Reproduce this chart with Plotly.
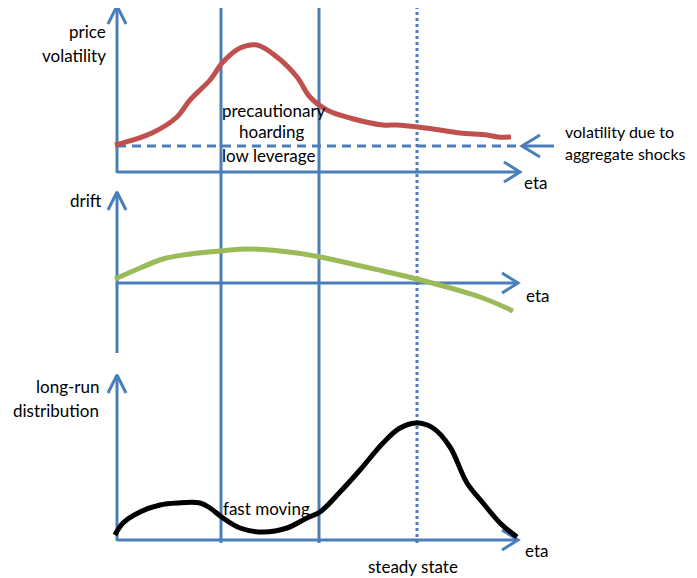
import plotly.graph_objects as go

W, H = 697, 578
OFF = 8                      # page body margin in the browser
FW, FH = W - OFF, H - OFF    # figure size
BLUE = "#4A7EBB"
RED = "#C0504D"
GREEN = "#9BBB59"
FONT = "Lato"
FS = 17

# ---- data (eta measured from the vertical axis, values measured from each panel's horizontal axis)
vol_eta = [-2, 35, 60, 73, 93, 106, 123, 140, 160, 180, 193, 210, 233, 266, 280, 301, 323, 343, 370, 381, 394]
vol_val = [27, 39, 55, 72, 92, 110, 124, 127, 115, 95, 75, 62, 54, 47, 47, 45, 42, 39, 37, 35, 35]
agg_vol = 26

drift_eta = [-2, 23, 46, 66, 103, 133, 180, 203, 266, 300, 363, 396]
drift_val = [4, 15, 24, 28, 32, 34, 30, 26, 12, 4, -14, -28]

dist_eta = [-2, 6, 23, 43, 60, 83, 93, 106, 123, 146, 170, 190, 203, 223, 243, 266, 283, 300, 316, 333, 350, 366, 383, 400]
dist_val = [5, 17, 28, 35, 37, 37, 32, 22, 12, 8, 12, 22, 28, 48, 70, 97, 112, 117, 112, 93, 57, 37, 17, 3]

regions = [104, 202]       # solid vertical separators
steady_state = 300         # dotted vertical line

# panel layout in page pixels
X0 = 117
BASE = {"y": 172, "y2": 283, "y3": 540}

fig = go.Figure()

def yr(name):
    b = BASE[name] - OFF
    return [-(FH - b), b]

def px_to_val(name, py):
    return BASE[name] - py

def vline(x, y_top_px, y_bot_px, dash="solid"):
    fig.add_trace(go.Scatter(x=[x, x], y=[px_to_val("y", y_top_px), px_to_val("y", y_bot_px)],
                             mode="lines", line=dict(color=BLUE, width=3, dash=dash),
                             yaxis="y", hoverinfo="skip", showlegend=False))

for r in regions:
    vline(r, 6, 543)
vline(steady_state, 6, 543, dash="dot")

def axis_pair(yname, top_px, bot_px, x_end):
    b = BASE[yname]
    top = b - top_px
    fig.add_trace(go.Scatter(x=[0, 0], y=[top, b - bot_px],
                             mode="lines", line=dict(color=BLUE, width=3),
                             yaxis=yname, hoverinfo="skip", showlegend=False))
    fig.add_trace(go.Scatter(x=[-9, 0, 9], y=[top - 18, top, top - 18],
                             mode="lines", line=dict(color=BLUE, width=3),
                             yaxis=yname, hoverinfo="skip", showlegend=False))
    fig.add_trace(go.Scatter(x=[0, x_end], y=[0, 0],
                             mode="lines", line=dict(color=BLUE, width=3),
                             yaxis=yname, hoverinfo="skip", showlegend=False))
    fig.add_trace(go.Scatter(x=[x_end - 16, x_end, x_end - 16], y=[10, 0, -10],
                             mode="lines", line=dict(color=BLUE, width=3),
                             yaxis=yname, hoverinfo="skip", showlegend=False))

axis_pair("y", 6, 173, 403)
axis_pair("y2", 192, 353, 401)
axis_pair("y3", 375, 541, 401)

# aggregate volatility dashed line and arrow
fig.add_trace(go.Scatter(x=[0, 400], y=[agg_vol, agg_vol], mode="lines",
                         line=dict(color=BLUE, width=3, dash="9px,6px"),
                         yaxis="y", hoverinfo="skip", showlegend=False))
fig.add_trace(go.Scatter(x=[405, 437], y=[agg_vol, agg_vol], mode="lines",
                         line=dict(color=BLUE, width=3), yaxis="y", hoverinfo="skip", showlegend=False))
fig.add_trace(go.Scatter(x=[423, 405, 423], y=[agg_vol + 11, agg_vol, agg_vol - 11], mode="lines",
                         line=dict(color=BLUE, width=3), yaxis="y", hoverinfo="skip", showlegend=False))

# curves
fig.add_trace(go.Scatter(x=vol_eta, y=vol_val, mode="lines", line=dict(color=RED, width=5, shape="spline"),
                         yaxis="y", hoverinfo="skip", showlegend=False))
fig.add_trace(go.Scatter(x=drift_eta, y=drift_val, mode="lines", line=dict(color=GREEN, width=5, shape="spline"),
                         yaxis="y2", hoverinfo="skip", showlegend=False))
fig.add_trace(go.Scatter(x=dist_eta, y=dist_val, mode="lines", line=dict(color="black", width=5, shape="spline"),
                         yaxis="y3", hoverinfo="skip", showlegend=False))

def txt(s, px, py, anchor="center", size=FS):
    fig.add_annotation(text=s, x=(px - OFF) / FW, y=1 - (py - OFF) / FH, xref="paper", yref="paper",
                       showarrow=False, xanchor=anchor, yanchor="middle",
                       font=dict(family=FONT, size=size, color="black"))

txt("price", 108, 31, "right")
txt("volatility", 108, 55, "right")
txt("precautionary", 274, 110)
txt("hoarding", 272, 131)
txt("low leverage", 268, 155)
txt("volatility due to", 563, 131, "left", 16)
txt("aggregate shocks", 563, 153, "left", 16)
txt("eta", 535, 182)
txt("drift", 86, 201)
txt("eta", 537, 295)
txt("long-run", 101, 386, "right")
txt("distribution", 101, 410, "right")
txt("fast moving", 266, 508)
txt("eta", 536, 550)
txt("steady state", 413, 566)

axis_common = dict(visible=False, showgrid=False, zeroline=False, fixedrange=True)
fig.update_layout(
    width=FW, height=FH, margin=dict(l=0, r=0, t=0, b=0),
    paper_bgcolor="white", plot_bgcolor="white",
    xaxis=dict(range=[-(X0 - OFF), FW - (X0 - OFF)], domain=[0, 1], **axis_common),
    yaxis=dict(range=yr("y"), domain=[0, 1], **axis_common),
    yaxis2=dict(range=yr("y2"), overlaying="y", **axis_common),
    yaxis3=dict(range=yr("y3"), overlaying="y", **axis_common),
    showlegend=False,
)

fig.write_html("out.html")
